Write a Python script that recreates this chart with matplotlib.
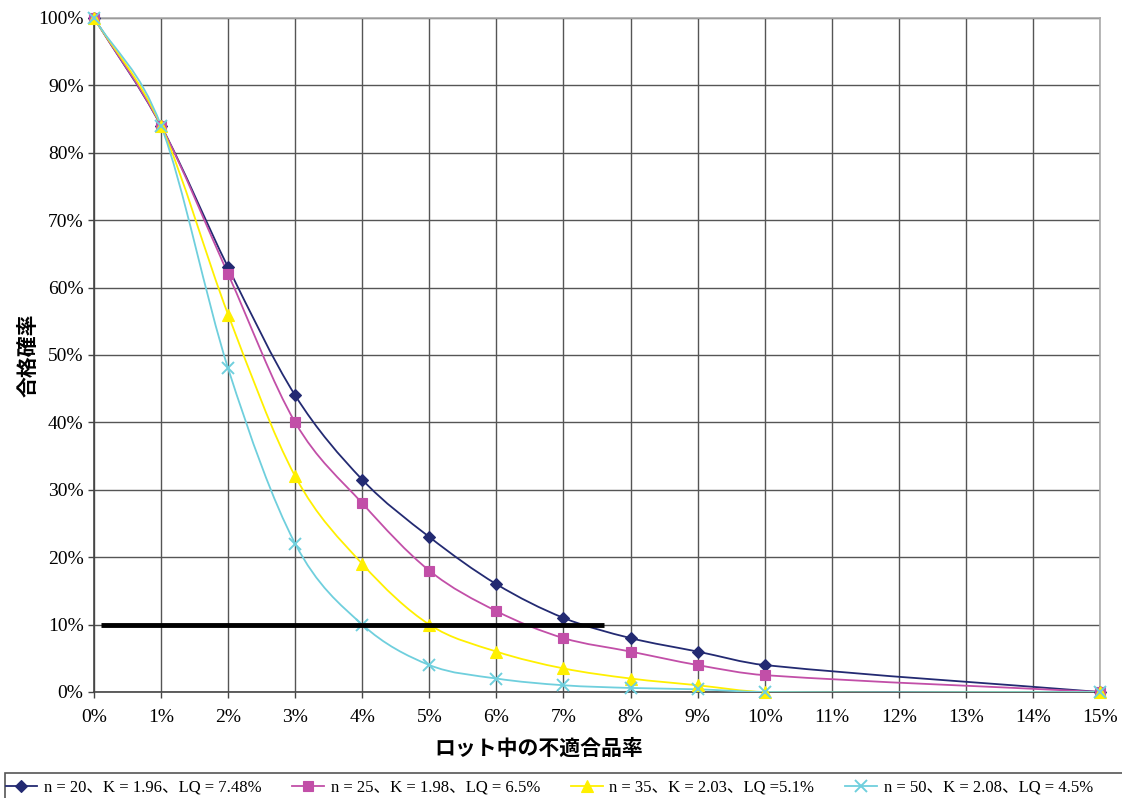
import matplotlib.pyplot as plt
import numpy as np
from matplotlib.path import Path
from matplotlib.patches import PathPatch, Rectangle
from matplotlib.lines import Line2D
from matplotlib.ticker import FuncFormatter

# lot fraction defective (%) where the curves have points
X_PCT = [0, 1, 2, 3, 4, 5, 6, 7, 8, 9, 10, 15]

# acceptance probability (%) for each plan
N20 = [100, 84, 63, 44, 31.5, 23, 16, 11, 8, 6, 4, 0]
N25 = [100, 84, 62, 40, 28, 18, 12, 8, 6, 4, 2.5, 0]
N35 = [100, 84, 56, 32, 19, 10, 6, 3.5, 2, 1, 0, 0]
N50 = [100, 84, 48, 22, 10, 4, 2, 1, 0.6, 0.4, 0, 0]

LABELS = ["n = 20、K = 1.96、LQ = 7.48%",
          "n = 25、K = 1.98、LQ = 6.5%",
          "n = 35、K = 2.03、LQ =5.1%",
          "n = 50、K = 2.08、LQ = 4.5%"]

# 10% reference line
REF_Y = 10
REF_X = [0.1, 7.6]

SERIF = ['Liberation Serif', 'Noto Sans CJK JP']
JP = ['Noto Sans CJK JP']


def smooth_path(x, y):
    # smoothed line: cubic hermite (bezier) through the points
    x = np.asarray(x, float)
    y = np.asarray(y, float)
    n = len(x)
    m = np.zeros(n)
    for i in range(n):
        lo = max(i - 1, 0)
        hi = min(i + 1, n - 1)
        m[i] = (y[hi] - y[lo]) / (x[hi] - x[lo])
    verts = [(x[0], y[0])]
    codes = [Path.MOVETO]
    for i in range(n - 1):
        h = x[i + 1] - x[i]
        verts += [(x[i] + h / 3, y[i] + m[i] * h / 3),
                  (x[i + 1] - h / 3, y[i + 1] - m[i + 1] * h / 3),
                  (x[i + 1], y[i + 1])]
        codes += [Path.CURVE4] * 3
    return Path(verts, codes)


def main():
    fig = plt.figure(figsize=(11.22, 7.98), dpi=100)
    ax = fig.add_axes([94 / 1122, 1 - 692 / 798, (1100 - 94) / 1122, (692 - 18) / 798])

    series = [
        (N20, '#232A72', 'D', 6),
        (N25, '#C24FA8', 's', 7),
        (N35, '#FFF000', '^', 8),
        (N50, '#6FCFDD', 'x', 8),
    ]

    handles = []
    for (y, color, marker, ms), label in zip(series, LABELS):
        patch = PathPatch(smooth_path(X_PCT, y), facecolor='none', edgecolor=color,
                          lw=1.3, zorder=3)
        ax.add_patch(patch)
        mew = 1.4 if marker == 'x' else 0.8
        ax.plot(X_PCT, y, linestyle='none', marker=marker, ms=ms, color=color,
                markeredgewidth=mew, zorder=4, clip_on=False)
        handles.append(Line2D([], [], color=color, lw=1.3, marker=marker, ms=ms,
                              markeredgewidth=mew, label=label))

    ax.plot(REF_X, [REF_Y, REF_Y], color='black', lw=3.5, zorder=5, solid_capstyle='butt')

    ax.set_xlim(0, 15)
    ax.set_ylim(0, 100)
    ax.set_xticks(range(0, 16))
    ax.set_yticks(range(0, 101, 10))
    ax.xaxis.set_major_formatter(FuncFormatter(lambda v, p: f"{v:.0f}%"))
    ax.yaxis.set_major_formatter(FuncFormatter(lambda v, p: f"{v:.0f}%"))
    for lab in ax.get_xticklabels() + ax.get_yticklabels():
        lab.set_family(SERIF)
        lab.set_fontsize(14)
    ax.tick_params(axis='both', direction='out', length=4.5, width=1, color='#444444')
    ax.tick_params(axis='x', pad=8)
    ax.tick_params(axis='y', pad=3)

    ax.grid(True, color='#555555', lw=1)
    ax.set_axisbelow(True)
    ax.spines['left'].set_color('#444444')
    ax.spines['bottom'].set_color('#444444')
    ax.spines['top'].set_color('#AAAAAA')
    ax.spines['right'].set_color('#AAAAAA')
    for s in ax.spines.values():
        s.set_linewidth(1.2)

    fig.text(539 / 1122, 1 - 748 / 798, 'ロット中の不適合品率', family=JP, fontsize=15,
             fontweight='bold', ha='center', va='center')
    fig.text(28 / 1122, 1 - 355 / 798, '合格確率', family=JP, fontsize=15,
             fontweight='bold', ha='center', va='center', rotation=90)

    # legend box runs off the right edge of the picture
    fig.patches.append(Rectangle((5 / 1122, -0.01), 1.0, 0.01 + (798 - 773) / 798,
                                 transform=fig.transFigure, fill=False,
                                 edgecolor='#555555', lw=1.2))
    fig.legend(handles=handles, loc='center left',
               bbox_to_anchor=(4 / 1122, 1 - 788 / 798),
               ncol=4, frameon=False, prop={'family': SERIF, 'size': 12},
               handlelength=1.9, handletextpad=0.4, columnspacing=1.85,
               borderaxespad=0, borderpad=0.1)

    fig.savefig('out.png', dpi=100)


if __name__ == '__main__':
    main()
